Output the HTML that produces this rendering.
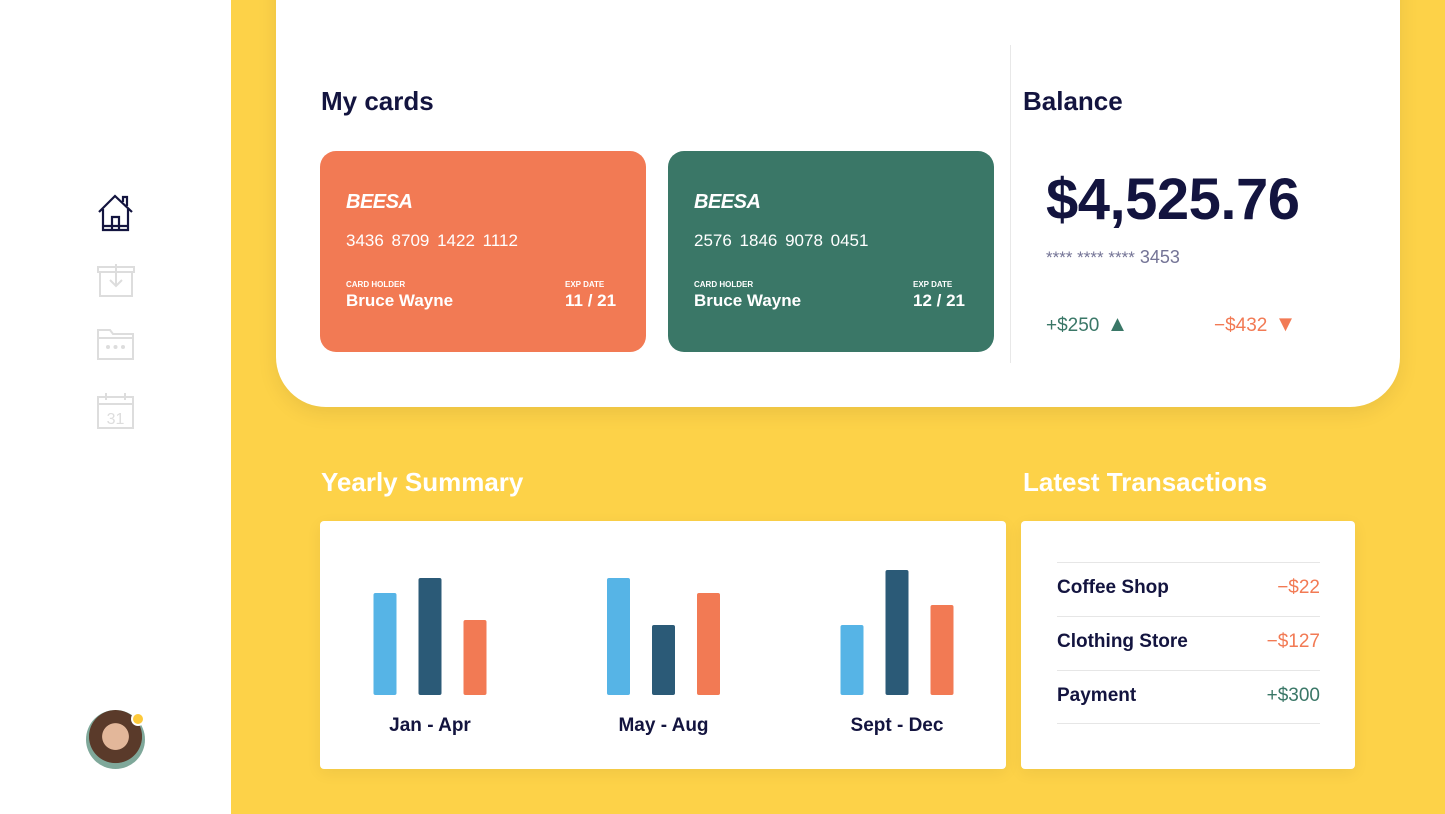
<!DOCTYPE html>
<html><head><meta charset="utf-8">
<style>
*{box-sizing:border-box;margin:0;padding:0}
body{width:1445px;height:814px;overflow:hidden;position:relative;background:#fdd248;font-family:"Liberation Sans",sans-serif;color:#13143f}
.abs{position:absolute}
#sidebar{left:0;top:0;width:231px;height:814px;background:#fff}
#top{left:276px;top:-40px;width:1124px;height:447px;background:#fff;border-radius:0 0 50px 50px;box-shadow:0 6px 20px rgba(0,0,0,.08)}
h2{position:absolute;font-size:26px;font-weight:700}
.card{position:absolute;top:151px;width:326px;height:201px;border-radius:16px;color:#fff}
.card .brand{position:absolute;left:26px;top:40px;font-size:20px;font-weight:900;font-style:italic;letter-spacing:-.5px}
.card .num{position:absolute;left:26px;top:80px;font-size:17px;word-spacing:3px}
.card .lab{position:absolute;top:129px;font-size:8px;font-weight:700}
.card .val{position:absolute;top:140px;font-size:17px;font-weight:600}
.panel{position:absolute;top:521px;height:248px;background:#fff;border-radius:4px;box-shadow:0 4px 16px rgba(0,0,0,.06)}
.tx{position:absolute;left:36px;width:263px;height:54px;border-top:1px solid #e6e6e6;font-size:19px;font-weight:700;line-height:50px}
.tx span{position:absolute;right:0;font-weight:400}
</style></head><body>
<div id="sidebar" class="abs">
 <svg class="abs" style="left:96px;top:193px" width="40" height="40" viewBox="0 0 40 40"><path d="M3 19 L19 3 L36 19 M7 16 V37 H32 V16 M16 37 V24 H23 V37 M27 9 V4 H31 V13 M7 33 H32" fill="none" stroke="#13143f" stroke-width="2.2"/></svg>
 <svg class="abs" style="left:96px;top:262px" width="40" height="36" viewBox="0 0 40 36"><path d="M2 5 H38 V10 H2 Z M4 10 V34 H36 V10 M20 2 V24 M14 18 L20 24 L26 18" fill="none" stroke="#ddd" stroke-width="2"/></svg>
 <svg class="abs" style="left:96px;top:327px" width="40" height="34" viewBox="0 0 40 34"><path d="M2 3 H14 L17 7 H37 V32 H2 Z M2 11 H37" fill="none" stroke="#ddd" stroke-width="2"/><circle cx="12" cy="20" r="2" fill="#ddd"/><circle cx="19.5" cy="20" r="2" fill="#ddd"/><circle cx="27" cy="20" r="2" fill="#ddd"/></svg>
 <svg class="abs" style="left:96px;top:392px" width="40" height="38" viewBox="0 0 40 38"><path d="M2 5 H37 V36 H2 Z M2 12 H37 M10 1 V8 M29 1 V8" fill="none" stroke="#ddd" stroke-width="2"/><text x="19.5" y="32" text-anchor="middle" font-size="16" fill="#ddd" font-family="Liberation Sans">31</text></svg>
 <div class="abs" style="left:86px;top:710px;width:59px;height:59px;border-radius:50%;background:radial-gradient(circle at 50% 45%,#e3b79a 0 30%,#5a3a2a 31% 60%,#7fa89a 61%)"></div>
 <div class="abs" style="left:131px;top:712px;width:14px;height:14px;border-radius:50%;background:#fdc93a;border:2px solid #fff"></div>
</div>
<div id="top" class="abs"></div>
<h2 style="left:321px;top:86px">My cards</h2>
<div class="card" style="left:320px;background:#f27a54">
 <div class="brand">BEESA</div><div class="num">3436 8709 1422 1112</div>
 <div class="lab" style="left:26px">CARD HOLDER</div><div class="val" style="left:26px">Bruce Wayne</div>
 <div class="lab" style="left:245px">EXP DATE</div><div class="val" style="left:245px">11 / 21</div>
</div>
<div class="card" style="left:668px;background:#3a7767">
 <div class="brand">BEESA</div><div class="num">2576 1846 9078 0451</div>
 <div class="lab" style="left:26px">CARD HOLDER</div><div class="val" style="left:26px">Bruce Wayne</div>
 <div class="lab" style="left:245px">EXP DATE</div><div class="val" style="left:245px">12 / 21</div>
</div>
<div class="abs" style="left:1010px;top:45px;width:1px;height:318px;background:#e8e8e8"></div>
<h2 style="left:1023px;top:86px">Balance</h2>
<div class="abs" style="left:1046px;top:166px;font-size:58px;font-weight:700;letter-spacing:-0.5px">$4,525.76</div>
<div class="abs" style="left:1046px;top:247px;font-size:18px;color:#747496"><span style="font-size:17px">**** **** ****</span> 3453</div>
<div class="abs" style="left:1046px;top:311px;font-size:19px;color:#3a7767">+$250 <span style="font-size:22px;margin-left:2px">▲</span></div>
<div class="abs" style="left:1214px;top:311px;font-size:19px;color:#f27a54">−$432 <span style="font-size:22px;margin-left:2px">▼</span></div>
<h2 style="left:321px;top:467px;color:#fff">Yearly Summary</h2>
<h2 style="left:1023px;top:467px;color:#fff">Latest Transactions</h2>
<div class="panel" style="left:320px;width:686px">
 <svg id="chart" width="686" height="248"></svg>
</div>
<div class="panel" style="left:1021px;width:334px">
 <div class="tx" style="top:41px">Coffee Shop<span style="color:#f27a54">−$22</span></div>
 <div class="tx" style="top:95px">Clothing Store<span style="color:#f27a54">−$127</span></div>
 <div class="tx" style="top:149px;border-bottom:1px solid #e6e6e6">Payment<span style="color:#3a7767">+$300</span></div>
</div>
<script>
const categories=["Jan - Apr","May - Aug","Sept - Dec"];
const seriesA=[102,117,70];
const seriesB=[117,70,125];
const seriesC=[75,102,90];
const colors=["#56b4e6","#2b5a77","#f27a54"];
const svg=document.getElementById('chart');
const NS="http://www.w3.org/2000/svg";
const baseY=174, yScale=v=>v*1.0;
const xCenter=i=>110+i*233.5;
[seriesA,seriesB,seriesC].forEach((s,si)=>{
 s.forEach((v,i)=>{
  const r=document.createElementNS(NS,'rect');
  r.setAttribute('x',xCenter(i)+(si-1)*45-11.5);
  r.setAttribute('y',baseY-yScale(v));
  r.setAttribute('width',23);
  r.setAttribute('height',yScale(v));
  r.setAttribute('rx',2);
  r.setAttribute('fill',colors[si]);
  
  
  svg.appendChild(r);
 });
});
categories.forEach((c,i)=>{
 const t=document.createElementNS(NS,'text');
 t.setAttribute('x',xCenter(i));
 t.setAttribute('y',210);
 t.setAttribute('text-anchor','middle');
 t.setAttribute('font-size','19');
 t.setAttribute('font-weight','700');
 t.setAttribute('fill','#13143f');
 t.setAttribute('font-family','Liberation Sans, sans-serif');
 t.textContent=c;
 
 
 svg.appendChild(t);
});
</script>
</body></html>
